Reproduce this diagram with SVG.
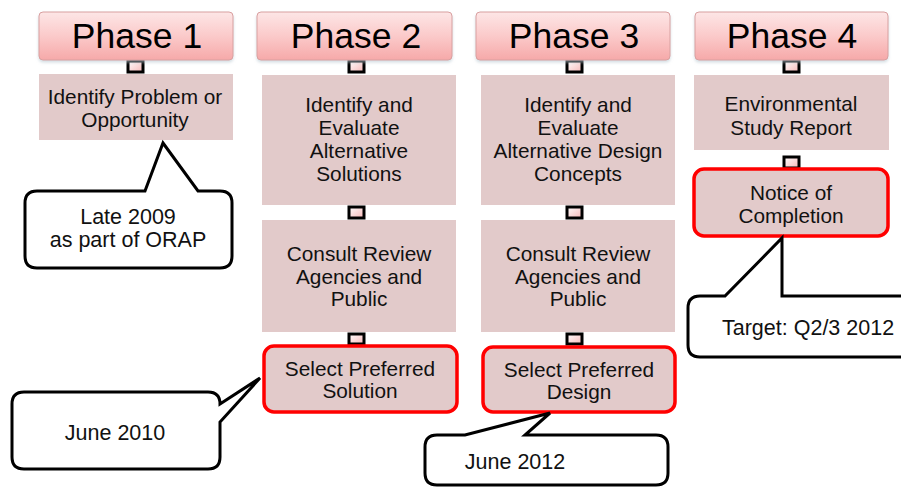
<svg xmlns="http://www.w3.org/2000/svg" width="901" height="487" viewBox="0 0 901 487">
<defs>
<linearGradient id="hdr" x1="0" y1="0" x2="0" y2="1">
<stop offset="0" stop-color="#fde6e6"/>
<stop offset="0.5" stop-color="#fbcaca"/>
<stop offset="1" stop-color="#f6a9a9"/>
</linearGradient>
<linearGradient id="sq" x1="0" y1="0" x2="1" y2="1">
<stop offset="0" stop-color="#ffffff"/>
<stop offset="1" stop-color="#f7b8b8"/>
</linearGradient>
<filter id="sh" x="-5%" y="-20%" width="110%" height="150%">
<feDropShadow dx="0" dy="2" stdDeviation="1.5" flood-color="#b8c8d0" flood-opacity="0.6"/>
</filter>
</defs>
<style>
.hdr{fill:url(#hdr);stroke:#d9a0a0;stroke-width:1}
.htxt{font-family:"Liberation Sans",Arial,sans-serif;font-size:35.5px;fill:#000;text-anchor:middle}
.box{fill:#e2caca}
.sel{fill:#e2caca;stroke:#ff0000;stroke-width:3.5}
.btxt{font-family:"Liberation Sans",Arial,sans-serif;font-size:20.8px;fill:#111;text-anchor:middle}
.sq{fill:url(#sq);stroke:#000;stroke-width:3}
.call{fill:#fff;stroke:#000;stroke-width:3;stroke-linejoin:miter}
.ctxt{font-family:"Liberation Sans","Open Sans",sans-serif;font-size:21.5px;fill:#111}
</style>

<g id="connectors">
<rect class="sq" x="128" y="61" width="15" height="11"/>
<rect class="sq" x="349" y="61" width="15" height="11"/>
<rect class="sq" x="567" y="61" width="15" height="11"/>
<rect class="sq" x="784" y="61" width="15" height="11"/>
<rect class="sq" x="349" y="207" width="15" height="11"/>
<rect class="sq" x="567" y="207" width="15" height="11"/>
<rect class="sq" x="349" y="334" width="15" height="10"/>
<rect class="sq" x="567" y="334" width="15" height="10"/>
<rect class="sq" x="784" y="157" width="15" height="11"/>
</g>

<g id="phase1">
<rect class="hdr" filter="url(#sh)" x="39" y="12" width="194" height="48" rx="4"/>
<text class="htxt" x="137" y="48">Phase 1</text>
</g>
<g id="phase2">
<rect class="hdr" filter="url(#sh)" x="257" y="12" width="195" height="48" rx="4"/>
<text class="htxt" x="356" y="48">Phase 2</text>
</g>
<g id="phase3">
<rect class="hdr" filter="url(#sh)" x="476" y="12" width="194" height="48" rx="4"/>
<text class="htxt" x="574" y="48">Phase 3</text>
</g>
<g id="phase4">
<rect class="hdr" filter="url(#sh)" x="695" y="12" width="193" height="48" rx="4"/>
<text class="htxt" x="792" y="48">Phase 4</text>
</g>

<g id="identify-problem">
<rect class="box" x="39" y="74" width="194" height="66"/>
<text class="btxt" x="135" y="104">Identify Problem or</text>
<text class="btxt" x="135" y="127">Opportunity</text>
</g>
<g id="identify-solutions">
<rect class="box" x="262" y="75" width="194" height="130"/>
<text class="btxt" x="359" y="112">Identify and</text>
<text class="btxt" x="359" y="135">Evaluate</text>
<text class="btxt" x="359" y="158">Alternative</text>
<text class="btxt" x="359" y="181">Solutions</text>
</g>
<g id="consult2">
<rect class="box" x="262" y="220" width="194" height="112"/>
<text class="btxt" x="359" y="261">Consult Review</text>
<text class="btxt" x="359" y="284">Agencies and</text>
<text class="btxt" x="359" y="306">Public</text>
</g>
<g id="select-solution">
<rect class="sel" x="264" y="346" width="193" height="66" rx="10"/>
<text class="btxt" x="360" y="376">Select Preferred</text>
<text class="btxt" x="360" y="398">Solution</text>
</g>

<g id="identify-design">
<rect class="box" x="481" y="75" width="194" height="130"/>
<text class="btxt" x="578" y="112">Identify and</text>
<text class="btxt" x="578" y="135">Evaluate</text>
<text class="btxt" x="578" y="158">Alternative Design</text>
<text class="btxt" x="578" y="181">Concepts</text>
</g>
<g id="consult3">
<rect class="box" x="481" y="220" width="194" height="112"/>
<text class="btxt" x="578" y="261">Consult Review</text>
<text class="btxt" x="578" y="284">Agencies and</text>
<text class="btxt" x="578" y="306">Public</text>
</g>
<g id="select-design">
<rect class="sel" x="483" y="347" width="192" height="65" rx="10"/>
<text class="btxt" x="579" y="377">Select Preferred</text>
<text class="btxt" x="579" y="399">Design</text>
</g>

<g id="esr">
<rect class="box" x="694" y="75" width="195" height="75"/>
<text class="btxt" x="791" y="111">Environmental</text>
<text class="btxt" x="791" y="135">Study Report</text>
</g>
<g id="notice">
<rect class="sel" x="694" y="169" width="194" height="67" rx="10"/>
<text class="btxt" x="791" y="200">Notice of</text>
<text class="btxt" x="791" y="223">Completion</text>
</g>

<g id="callout-late2009">
<path class="call" d="M37,191 H145 L163,143 L198,191 H220 Q232,191 232,203 V256 Q232,268 220,268 H37 Q25,268 25,256 V203 Q25,191 37,191 Z"/>
<text class="ctxt" x="128" y="224" text-anchor="middle">Late 2009</text>
<text class="ctxt" x="128" y="247" text-anchor="middle">as part of ORAP</text>
</g>
<g id="callout-june2010">
<path class="call" d="M24,392 H208 Q220,392 220,404 L260,378 L220,422 V457 Q220,469 208,469 H24 Q12,469 12,457 V404 Q12,392 24,392 Z"/>
<text class="ctxt" x="115" y="440" text-anchor="middle">June 2010</text>
</g>
<g id="callout-june2012">
<path class="call" d="M437,435 H465 L550,413 L525,435 H656 Q668,435 668,447 V473 Q668,485 656,485 H437 Q425,485 425,473 V447 Q425,435 437,435 Z"/>
<text class="ctxt" x="515" y="469" text-anchor="middle">June 2012</text>
</g>
<g id="callout-target">
<path class="call" d="M700,296 H725 L782,238 V296 H915 V357 H700 Q688,357 688,345 V308 Q688,296 700,296 Z"/>
<text class="ctxt" x="722" y="335">Target: Q2/3 2012</text>
</g>
</svg>
